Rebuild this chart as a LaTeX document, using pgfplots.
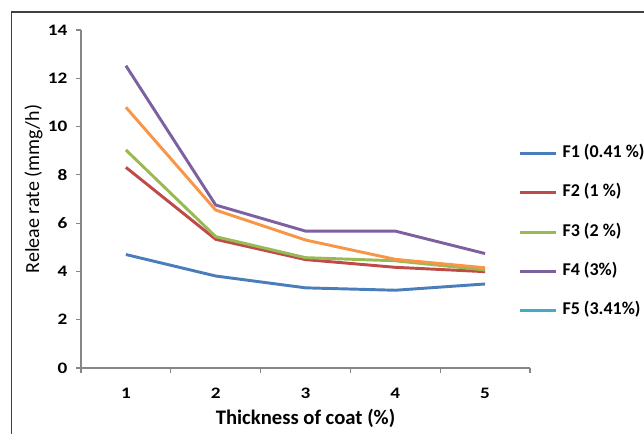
\documentclass[border=0pt]{standalone}
\usepackage{pgfplots}
\pgfplotsset{compat=1.18}
\usepackage{fontspec}
\setmainfont{Carlito}
\newfontfamily\tickfont{Carlito}[FakeStretch=1.2, UprightFont=*-Bold, BoldFont=*-Bold]
\definecolor{cF1}{HTML}{4A7EBB}
\definecolor{cF2}{HTML}{BE4B48}
\definecolor{cF3}{HTML}{98B954}
\definecolor{cF4}{HTML}{7D60A0}
\definecolor{cF5}{HTML}{46AAC5}
\definecolor{cF6}{HTML}{F79646}
\definecolor{axgray}{HTML}{868686}
\begin{document}
\begin{tikzpicture}
\path[use as bounding box] (0pt,0pt) rectangle (483pt,325.5pt);
\draw[color=black!75, line width=0.8pt] (8.5pt,0pt) -- (8.5pt,316.5pt) -- (483pt,316.5pt);
\begin{axis}[
  at={(60.75pt,49.5pt)}, anchor=south west,
  scale only axis, width=336.75pt, height=253.5pt,
  xmin=0.5, xmax=5.5, ymin=0, ymax=14,
  axis x line*=bottom, axis y line*=left,
  axis line style={draw=axgray, line width=0.9pt, -},
  xtick={1,2,3,4,5},
  xtick style={draw=none},
  minor xtick={0.5,1.5,2.5,3.5,4.5,5.5},
  minor x tick style={draw=axgray, line width=0.9pt},
  minor tick length=3.75pt,
  ytick={0,2,...,14},
  ytick style={draw=axgray, line width=0.9pt},
  major tick length=3.75pt,
  tick align=outside,
  /pgf/number format/assume math mode=true,
  ticklabel style={font=\tickfont\bfseries\fontsize{12}{14}\selectfont},
  xticklabel style={yshift=-8pt},
  yticklabel style={xshift=-3pt},
  xlabel={Thickness of coat (\%)},
  xlabel style={font=\bfseries\fontsize{15.5}{18}\selectfont, yshift=-1pt},
  ylabel={Releae rate (mmg/h)},
  ylabel style={font=\fontsize{15}{18}\selectfont, yshift=-3pt, xshift=7.5pt},
  legend style={at={(0.9733,0.6686)}, anchor=north west, draw=none, fill=none,
    font=\bfseries\fontsize{13.5}{15}\selectfont, row sep=12.5pt, inner sep=0pt,
    nodes={text height=9.5pt, text depth=3.5pt, inner xsep=4pt},
    cells={anchor=west}},
  legend image code/.code={\draw[#1, line width=2.2pt] (0pt,0pt) -- (27pt,0pt);},
  every axis plot/.append style={line width=2.2pt},
  clip=false,
]
\addplot[cF1] coordinates {(1,4.70) (2,3.81) (3,3.32) (4,3.22) (5,3.48)};
\addlegendentry{F1 (0.41 \%)}
\addplot[cF2] coordinates {(1,8.31) (2,5.33) (3,4.49) (4,4.17) (5,3.99)};
\addlegendentry{F2 (1 \%)}
\addplot[cF3] coordinates {(1,9.03) (2,5.44) (3,4.57) (4,4.44) (5,4.06)};
\addlegendentry{F3 (2 \%)}
\addplot[cF6, forget plot] coordinates {(1,10.80) (2,6.54) (3,5.30) (4,4.50) (5,4.15)};
\addplot[cF4] coordinates {(1,12.52) (2,6.75) (3,5.67) (4,5.67) (5,4.74)};
\addlegendentry{F4 (3\%)}
\addlegendimage{cF5}
\addlegendentry{F5 (3.41\%)}
\end{axis}
\end{tikzpicture}
\end{document}
